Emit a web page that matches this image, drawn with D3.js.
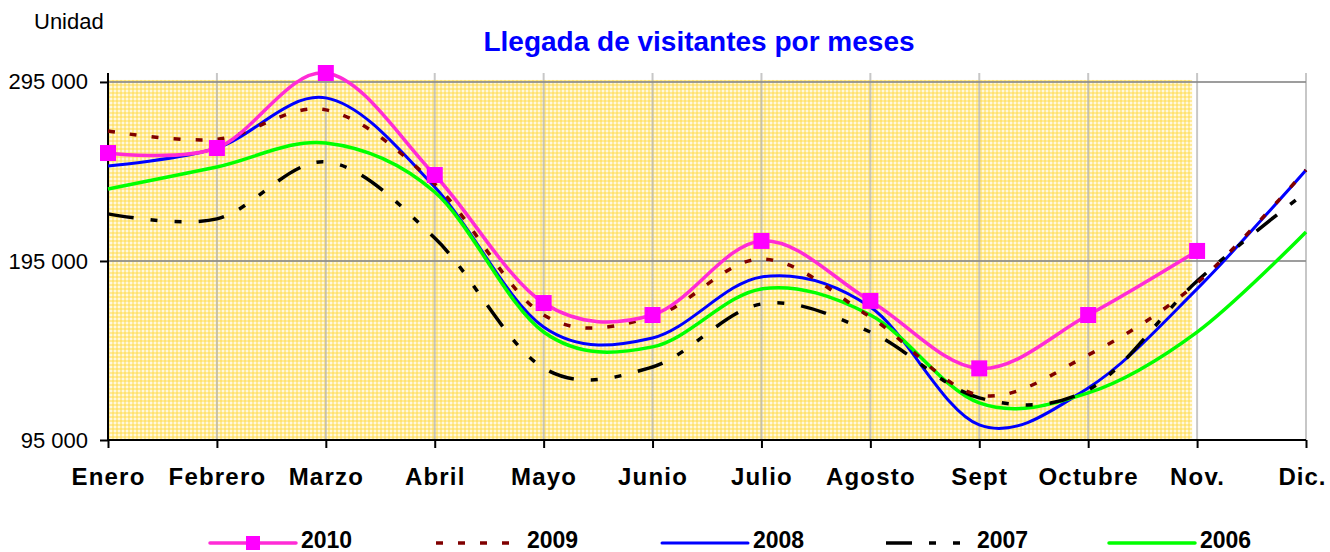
<!DOCTYPE html>
<html>
<head>
<meta charset="utf-8">
<script src="https://cdn.jsdelivr.net/npm/d3@7"></script>
<style>
   body { margin: 0; background: #fff; }
   svg { display: block; font-family: "Liberation Sans", Arial, sans-serif; }
</style>
</head>
<body>
<svg id="chart" width="1330" height="552"></svg>
<script>
// Datos
const meses = ['Enero', 'Febrero', 'Marzo', 'Abril', 'Mayo', 'Junio', 'Julio', 'Agosto', 'Sept', 'Octubre', 'Nov.', 'Dic.'];

// 2010 termina en noviembre
const v2010 = [255300, 258100, 300000, 243000, 171500, 164800, 206200, 172700, 135000, 164800, 200600];
const v2009 = [267600, 263000, 279400, 238000, 164800, 163700, 196100, 163700, 120100, 142500, 182700, 245800];
const v2008 = [248100, 258100, 286100, 236300, 158100, 152000, 186100, 169300, 103400, 124100, 179400, 245800];
const v2007 = [221300, 218500, 250300, 207800, 135200, 135800, 171000, 155300, 118500, 123000, 183800, 233500];
const v2006 = [235200, 247500, 260900, 233500, 155300, 147000, 179400, 164800, 115700, 121300, 155300, 211200];

const anios = ['2010', '2009', '2008', '2007', '2006'];

// ejes
const yTicks = [95000, 195000, 295000];
const yTickLabels = ['95 000', '195 000', '295 000'];
const yMin = 95000;
const yMax = 300000;

// estilos de cada serie
const Estilos = {
   '2010': { color: '#FF2BD6', width: 3.5, dash: null, marker: true },
   '2009': { color: '#800000', width: 3.5, dash: '7,15', marker: false },
   '2008': { color: '#0000FF', width: 3, dash: null, marker: false },
   '2007': { color: '#000000', width: 3.5, dash: '26,17,7,17,7,17', marker: false },
   '2006': { color: '#00FF00', width: 3.5, dash: null, marker: false }
};

const valores = { '2010': v2010, '2009': v2009, '2008': v2008, '2007': v2007, '2006': v2006 };

// orden de dibujo
const ordenDibujo = ['2008', '2006', '2007', '2009', '2010'];

const svg = d3.select('#chart');

const x = d3.scalePoint().domain(meses).range([108, 1306]);
const y = d3.scaleLinear().domain([yMin, yMax]).range([440, 73]);

// patrón amarillo (cuadriculado) del fondo
const defs = svg.append('defs');
const pat = defs.append('pattern')
   .attr('id', 'amarillo')
   .attr('width', 4)
   .attr('height', 4)
   .attr('patternUnits', 'userSpaceOnUse');
pat.append('rect').attr('width', 4).attr('height', 4).attr('fill', '#FFF8DE');
pat.append('rect').attr('width', 4).attr('height', 2).attr('fill', '#FFD940').attr('fill-opacity', 0.45);
pat.append('rect').attr('width', 2).attr('height', 4).attr('fill', '#FFD940').attr('fill-opacity', 0.45);

// zona amarilla (enero - noviembre)
svg.append('rect')
   .attr('x', x('Enero'))
   .attr('y', y(295000) - 2)
   .attr('width', x('Nov.') - 5 - x('Enero'))
   .attr('height', y(yMin) - y(295000) + 2)
   .attr('fill', 'url(#amarillo)');

// rejilla vertical
svg.append('g')
   .selectAll('line')
   .data(meses.slice(1))
   .enter()
   .append('line')
   .attr('x1', (d) => x(d))
   .attr('x2', (d) => x(d))
   .attr('y1', y(yMax))
   .attr('y2', y(yMin))
   .attr('stroke', '#B4B4B4')
   .attr('stroke-opacity', 0.75)
   .attr('stroke-width', 2);

// rejilla horizontal
svg.append('g')
   .selectAll('line')
   .data(yTicks.slice(1))
   .enter()
   .append('line')
   .attr('x1', x('Enero'))
   .attr('x2', x('Dic.'))
   .attr('y1', (d) => y(d))
   .attr('y2', (d) => y(d))
   .attr('stroke', '#8C8C8C')
   .attr('stroke-opacity', 0.85)
   .attr('stroke-width', 2);

// eje Y
const ejeY = svg.append('g')
   .attr('transform', `translate(${x('Enero')},0)`)
   .call(d3.axisLeft(y)
      .tickValues(yTicks)
      .tickSize(8)
      .tickPadding(12)
      .tickFormat((d, i) => yTickLabels[i]));
ejeY.select('.domain').attr('stroke', '#000').attr('stroke-width', 2).attr('d', `M0,${y(yMax)}V${y(yMin)}`);
ejeY.selectAll('.tick line').attr('stroke', '#000').attr('stroke-width', 2);
ejeY.selectAll('.tick text')
   .attr('font-size', 22)
   .attr('font-family', '"Liberation Sans", Arial, sans-serif')
   .attr('fill', '#000');

// eje X
const ejeX = svg.append('g')
   .attr('transform', `translate(0,${y(yMin)})`)
   .call(d3.axisBottom(x).tickSize(8).tickPadding(20));
ejeX.select('.domain').attr('stroke', '#000').attr('stroke-width', 2).attr('d', `M${x('Enero')},0H${x('Dic.')}`);
ejeX.selectAll('.tick line').attr('stroke', '#000').attr('stroke-width', 2);
ejeX.selectAll('.tick text')
   .attr('font-size', 24)
   .attr('font-weight', 'bold')
   .attr('letter-spacing', 1.2)
   .attr('font-family', '"Liberation Sans", Arial, sans-serif')
   .attr('fill', '#000');
// "Dic." pegado al borde derecho
ejeX.selectAll('.tick text')
   .filter((d) => d === 'Dic.')
   .attr('text-anchor', 'end')
   .attr('letter-spacing', 1)
   .attr('dx', 20);

// líneas suavizadas
const linea = d3.line()
   .x((d, i) => x(meses[i]))
   .y((d) => y(d))
   .curve(d3.curveCardinal.tension(0));

ordenDibujo.forEach(function (anio) {
   const e = Estilos[anio];
   svg.append('path')
      .datum(valores[anio])
      .attr('d', linea)
      .attr('fill', 'none')
      .attr('stroke', e.color)
      .attr('stroke-width', e.width)
      .attr('stroke-dasharray', e.dash)
      .attr('stroke-linejoin', 'round');
});

// marcadores 2010
svg.append('g')
   .selectAll('rect')
   .data(v2010)
   .enter()
   .append('rect')
   .attr('x', (d, i) => x(meses[i]) - 8)
   .attr('y', (d) => y(d) - 8)
   .attr('width', 16)
   .attr('height', 16)
   .attr('fill', '#FF00FF');

// textos
svg.append('text')
   .attr('x', 34)
   .attr('y', 29)
   .attr('font-size', 22)
   .text('Unidad');

svg.append('text')
   .attr('x', 699)
   .attr('y', 51)
   .attr('text-anchor', 'middle')
   .attr('font-size', 28)
   .attr('font-weight', 'bold')
   .attr('fill', '#0000FF')
   .text('Llegada de visitantes por meses');

// leyenda
const leyendaX = [210, 436, 662, 886, 1109];
const leyendaY = 543;
const leyenda = svg.append('g')
   .selectAll('g')
   .data(anios)
   .enter()
   .append('g')
   .attr('transform', (d, i) => `translate(${leyendaX[i]},${leyendaY})`);

leyenda.append('line')
   .attr('x1', 0)
   .attr('x2', 86)
   .attr('stroke', (d) => Estilos[d].color)
   .attr('stroke-width', (d) => Estilos[d].width)
   .attr('stroke-dasharray', (d) => Estilos[d].dash)
   .attr('stroke-linecap', (d) => Estilos[d].dash ? 'butt' : 'round');

leyenda.filter((d) => Estilos[d].marker)
   .append('rect')
   .attr('x', 36)
   .attr('y', -7)
   .attr('width', 14)
   .attr('height', 14)
   .attr('fill', '#FF00FF');

leyenda.append('text')
   .attr('x', 91)
   .attr('y', 5)
   .attr('font-size', 23)
   .attr('font-weight', 'bold')
   .text((d) => d);
</script>
</body>
</html>
